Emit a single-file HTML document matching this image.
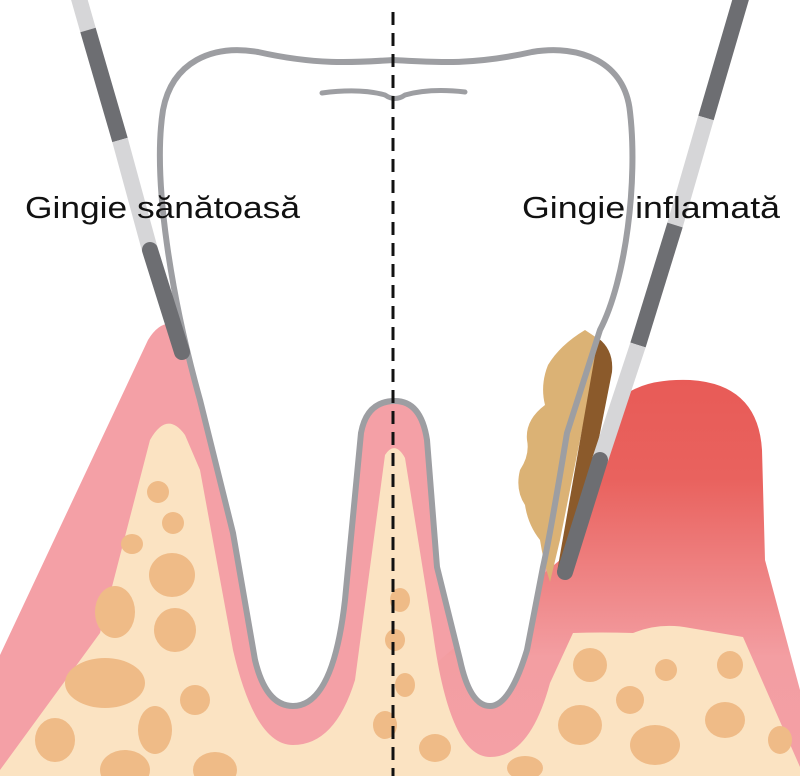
<!DOCTYPE html>
<html><head><meta charset="utf-8"><style>
html,body{margin:0;padding:0;background:#fff;}
svg{display:block}
</style></head><body>
<svg width="800" height="776" viewBox="0 0 800 776" xmlns="http://www.w3.org/2000/svg">
<defs>
<linearGradient id="inf" x1="0" y1="0" x2="0" y2="1">
<stop offset="0" stop-color="#e85b57"/>
<stop offset="0.25" stop-color="#e9625e"/>
<stop offset="0.7" stop-color="#f39ea2"/>
<stop offset="1" stop-color="#f4a0a6"/>
</linearGradient>
<path id="tooth" d="M200,400 C172,300 152,180 163,110 C172,62 212,44 258,52 C320,66 360,62 393,60 C430,62 470,66 532,52 C580,44 625,62 630,112 C638,180 626,280 600,330 L567,433 C556,500 548,545 543,567 L527,650 Q510,706 490,706 Q470,706 460,660 L437,567 Q430,480 427,440 Q421,401 395,401 Q367,401 361,433 L345,600 Q333,706 293,706 Q266,706 255,660 L233,533 Z"/>
</defs>
<path d="M0,655 L148,340 Q165,312 188,332 L395,300 L560,300 L548,580 L560,600 L600,776 L0,776 Z" fill="#f4a0a6"/>
<path d="M300,776 L560,560 L612,410 Q630,378 690,380 Q758,384 762,450 L765,560 L800,690 L800,776 Z" fill="url(#inf)"/>
<path d="M0,770 L100,633 L150,440 Q167,410 185,435 L200,470 L233,650 Q255,745 293,745 Q335,745 355,680 L385,455 Q395,440 405,458 L433,633 Q450,757 490,757 Q530,757 550,683 L573,633 Q600,632 633,633 Q660,622 690,628 L743,637 L800,767 L800,776 L0,776 Z" fill="#fbe3c2"/>
<g fill="#efbb87">
<ellipse cx="158" cy="492" rx="11" ry="11"/>
<ellipse cx="173" cy="523" rx="11" ry="11"/>
<ellipse cx="132" cy="544" rx="11" ry="10"/>
<ellipse cx="172" cy="575" rx="23" ry="22"/>
<ellipse cx="115" cy="612" rx="20" ry="26"/>
<ellipse cx="175" cy="630" rx="21" ry="22"/>
<ellipse cx="105" cy="683" rx="40" ry="25"/>
<ellipse cx="195" cy="700" rx="15" ry="15"/>
<ellipse cx="155" cy="730" rx="17" ry="24"/>
<ellipse cx="55" cy="740" rx="20" ry="22"/>
<ellipse cx="125" cy="770" rx="25" ry="20"/>
<ellipse cx="215" cy="770" rx="22" ry="18"/>
<ellipse cx="400" cy="600" rx="10" ry="12"/>
<ellipse cx="395" cy="640" rx="10" ry="11"/>
<ellipse cx="405" cy="685" rx="10" ry="12"/>
<ellipse cx="385" cy="725" rx="12" ry="14"/>
<ellipse cx="590" cy="665" rx="17" ry="17"/>
<ellipse cx="666" cy="670" rx="11" ry="11"/>
<ellipse cx="730" cy="665" rx="13" ry="14"/>
<ellipse cx="630" cy="700" rx="14" ry="14"/>
<ellipse cx="725" cy="720" rx="20" ry="18"/>
<ellipse cx="580" cy="725" rx="22" ry="20"/>
<ellipse cx="655" cy="745" rx="25" ry="20"/>
<ellipse cx="435" cy="748" rx="16" ry="14"/>
<ellipse cx="525" cy="768" rx="18" ry="12"/>
<ellipse cx="780" cy="740" rx="12" ry="14"/>
</g>
<use href="#tooth" fill="#fff"/>
<path d="M585,330 Q560,345 548,365 Q540,385 545,405 Q525,420 527,440 Q530,455 520,470 Q515,490 525,505 Q528,525 540,540 Q543,560 550,582 L560,540 L600,340 Z" fill="#dbb275"/>
<path d="M598,338 Q614,350 612,372 L575,560 L557,572 Z" fill="#8b5a2b"/>
<use href="#tooth" fill="none" stroke="#9d9ea2" stroke-width="6" stroke-linejoin="round"/>
<path d="M322,93 Q360,88 385,95 Q395,102 405,95 Q430,88 465,92" fill="none" stroke="#9d9ea2" stroke-width="5" stroke-linecap="round"/>
<g stroke-width="16">
<line x1="78" y1="-5" x2="88" y2="30" stroke="#d6d6d8"/>
<line x1="88" y1="30" x2="120" y2="140" stroke="#6d6e72"/>
<line x1="120" y1="140" x2="150" y2="250" stroke="#d6d6d8"/>
<line x1="150" y1="250" x2="182" y2="352" stroke="#6d6e72" stroke-linecap="round"/>
</g>
<g stroke-width="16">
<line x1="742" y1="-5" x2="706" y2="118" stroke="#6d6e72"/>
<line x1="706" y1="118" x2="675" y2="225" stroke="#d6d6d8"/>
<line x1="675" y1="225" x2="638" y2="345" stroke="#6d6e72"/>
<line x1="638" y1="345" x2="600" y2="460" stroke="#d6d6d8"/>
<line x1="600" y1="460" x2="565" y2="572" stroke="#6d6e72" stroke-linecap="round"/>
</g>
<line x1="393" y1="12" x2="393" y2="776" stroke="#111" stroke-width="3" stroke-dasharray="13,8"/>
<text x="25" y="218" font-family="'Liberation Sans',sans-serif" font-size="31" fill="#111" textLength="275" lengthAdjust="spacingAndGlyphs">Gingie sănătoasă</text>
<text x="522" y="218" font-family="'Liberation Sans',sans-serif" font-size="31" fill="#111" textLength="258" lengthAdjust="spacingAndGlyphs">Gingie inflamată</text>
</svg>
</body></html>
